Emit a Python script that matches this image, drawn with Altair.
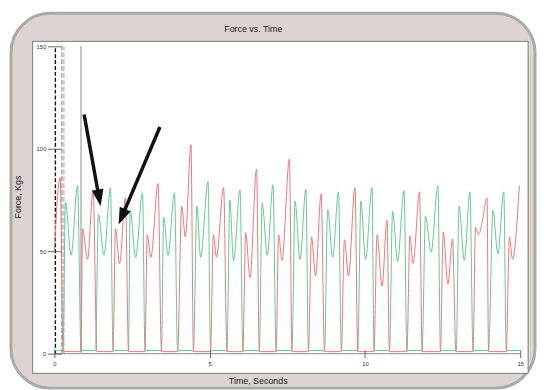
import math
import altair as alt
import pandas as pd

# ---------------- data ----------------
red_time = [0.00, 0.19, 0.28,
            0.86, 0.91, 1.07, 1.25, 1.37,
            1.89, 1.97, 2.10, 2.29, 2.39,
            2.92, 2.99, 3.11, 3.34, 3.45,
            3.97, 4.10, 4.22, 4.40, 4.48,
            5.03, 5.12, 5.22, 5.45, 5.56,
            6.07, 6.16, 6.30, 6.51, 6.60,
            7.14, 7.22, 7.33, 7.57, 7.65,
            8.18, 8.28, 8.41, 8.59, 8.70,
            9.24, 9.34, 9.47, 9.68, 9.77,
            10.29, 10.39, 10.55, 10.71, 10.79,
            11.35, 11.45, 11.55, 11.76, 11.84,
            12.43, 12.52, 12.67, 12.82, 12.93,
            13.48, 13.56, 13.66, 13.77, 13.93, 13.98,
            14.55, 14.65, 14.75, 14.97]
red_force = [50, 86, 1,
             1, 61, 46, 80, 1,
             1, 61, 44, 76, 1,
             1, 58, 47, 83, 1,
             1, 72, 57, 102, 1,
             1, 58, 47, 81, 1,
             1, 59, 37, 90, 1,
             1, 58, 45.5, 95, 1,
             1, 57, 38, 78, 1,
             1, 55.6, 38, 81, 1,
             1, 58, 33, 65, 1,
             1, 57.5, 44, 79, 1,
             1, 59.5, 34, 56, 1,
             1, 61.6, 58, 64, 76, 1,
             1, 57, 46, 82]

green_time = [0.00, 0.28, 0.36, 0.54, 0.75, 0.86,
              1.33, 1.42, 1.60, 1.81, 1.89,
              2.39, 2.44, 2.62, 2.84, 2.92,
              3.45, 3.52, 3.66, 3.87, 3.97,
              4.48, 4.59, 4.71, 4.95, 5.03,
              5.56, 5.65, 5.77, 5.98, 6.07,
              6.60, 6.69, 6.86, 7.04, 7.14,
              7.65, 7.75, 7.91, 8.10, 8.18,
              8.70, 8.80, 8.96, 9.15, 9.24,
              9.77, 9.87, 10.02, 10.23, 10.29,
              10.79, 10.89, 11.05, 11.26, 11.35,
              11.84, 11.95, 12.13, 12.35, 12.43,
              12.94, 13.03, 13.20, 13.38, 13.48,
              13.98, 14.12, 14.28, 14.47, 14.55,
              15.00]
green_force = [1.5, 1.5, 74, 48, 82, 1.5,
               1.5, 68, 48, 81, 1.5,
               1.5, 70, 47, 78.5, 1.5,
               1.5, 66.5, 48, 78.5, 1.5,
               1.5, 72, 47, 84, 1.5,
               1.5, 75, 45.5, 80, 1.5,
               1.5, 73.6, 48, 82.5, 1.5,
               1.5, 74.4, 46, 80.4, 1.5,
               1.5, 70.4, 47, 79, 1.5,
               1.5, 74.4, 46, 81, 1.5,
               1.5, 69.5, 45, 79.6, 1.5,
               1.5, 67, 49.5, 82, 1.5,
               1.5, 72, 45.5, 79, 1.5,
               1.5, 70, 48.7, 79, 1.5,
               1.5]

x_ticks = [0, 5, 10, 15]
y_ticks = [0, 50, 100, 150]

# cursor / marker lines near the start
marker_times = [0.035, 0.245, 0.31, 0.86]
marker_colors = ["#111111", "#7a7a7a", "#a0a0a0", "#c4c4c4"]
marker_dashes = [[4, 2], [5, 2], [5, 2], [1, 0]]
marker_widths = [1.4, 1.0, 1.0, 2.0]

# two annotation arrows (tail -> tip), in chart units
arrow_tail_time = [0.96, 3.40]
arrow_tail_force = [116.7, 110.6]
arrow_tip_time = [1.49, 2.07]
arrow_tip_force = [72.0, 63.0]

title_text = "Force vs. Time"
x_title_text = "Time, Seconds"
y_title_text = "Force, Kgs"

# ---------------- chart ----------------
W, H = 473, 312
X_DOM, Y_DOM = [0, 15], [0, 150]
FONT = "Liberation Sans"
kx = W / (X_DOM[1] - X_DOM[0])
ky = H / (Y_DOM[1] - Y_DOM[0])

xs = alt.Scale(domain=X_DOM, nice=False, zero=False)
ys = alt.Scale(domain=Y_DOM, nice=False, zero=False)
x_axis = alt.Axis(values=x_ticks, title=None, domain=False, grid=False, offset=-4,
                  tickSize=8, tickColor="#666666", labelFontSize=6, labelColor="#333333",
                  labelFont=FONT, labelPadding=3, labelFlush=False, format="d", zindex=1)
y_axis = alt.Axis(values=y_ticks, title=None, domain=False, grid=False, offset=-7,
                  tickSize=14, tickColor="#666666", labelFontSize=6, labelColor="#333333",
                  labelFont=FONT, labelPadding=1.5, format="d", zindex=1)

def X(f="t"):
    return alt.X(f"{f}:Q", scale=xs, axis=x_axis)

def Y(f="v"):
    return alt.Y(f"{f}:Q", scale=ys, axis=y_axis)

one = pd.DataFrame({"k": [0]})

outer = alt.Chart(one).mark_rect(
    cornerRadius=40, fill="#dcd4d1", stroke="#a9a9a9", strokeWidth=3
).encode(x=alt.value(-44), x2=alt.value(488), y=alt.value(-33.5), y2=alt.value(347))

panel = alt.Chart(one).mark_rect(
    fill="white", stroke="#7a7a7a", strokeWidth=1
).encode(x=alt.value(-22), x2=alt.value(481), y=alt.value(-5), y2=alt.value(332))

baseline = alt.Chart(pd.DataFrame({"t": [X_DOM[0]], "t2": [X_DOM[1]], "v": [0]})).mark_rule(
    color="#888888", strokeWidth=1
).encode(x=X("t"), x2="t2:Q", y=Y("v"))

marker_layers = []
for mt, mc, md, mw in zip(marker_times, marker_colors, marker_dashes, marker_widths):
    marker_layers.append(
        alt.Chart(pd.DataFrame({"t": [mt], "v": [Y_DOM[0]], "v2": [Y_DOM[1]]})).mark_rule(
            color=mc, strokeDash=md, strokeWidth=mw
        ).encode(x=X("t"), y=Y("v"), y2="v2:Q")
    )

green_df = pd.DataFrame({"t": green_time, "v": green_force})
red_df = pd.DataFrame({"t": red_time, "v": red_force})

green_line = alt.Chart(green_df).mark_line(
    interpolate="monotone", color="#62c892", strokeWidth=1.0
).encode(x=X(), y=Y())
red_line = alt.Chart(red_df).mark_line(
    interpolate="monotone", color="#f07474", strokeWidth=1.0
).encode(x=X(), y=Y())

# arrows
rows = []
for tt, tv, pt, pv in zip(arrow_tail_time, arrow_tail_force, arrow_tip_time, arrow_tip_force):
    dx = (pt - tt) * kx
    dy = -(pv - tv) * ky
    L = math.hypot(dx, dy)
    ux, uy = dx / L, dy / L
    ang = math.degrees(math.atan2(ux, -uy)) % 360
    rows.append({"t": tt, "v": tv,
                 "t2": pt - 11 * ux / kx, "v2": pv + 11 * uy / ky,
                 "tipt": pt, "tipv": pv, "ang": ang})
arrow_df = pd.DataFrame(rows)

shafts = alt.Chart(arrow_df).mark_rule(color="#111111", strokeWidth=3.5).encode(
    x=X("t"), y=Y("v"), x2="t2:Q", y2="v2:Q")
heads = alt.Chart(arrow_df).mark_point(
    shape="M0,0L-0.7,2L0.7,2Z", filled=True, color="#111111", opacity=1, size=289
).encode(x=X("tipt"), y=Y("tipv"), angle=alt.Angle("ang:Q", scale=None))

title = alt.Chart(one).mark_text(
    text=title_text, font=FONT, fontSize=9, color="#222222", align="center", baseline="middle"
).encode(x=alt.value(202), y=alt.value(-18))
xtitle = alt.Chart(one).mark_text(
    text=x_title_text, font=FONT, fontSize=9, color="#222222", align="center", baseline="alphabetic"
).encode(x=alt.value(207), y=alt.value(343))
ytitle = alt.Chart(one).mark_text(
    text=y_title_text, font=FONT, fontSize=9, color="#222222", align="center", baseline="middle",
    angle=270
).encode(x=alt.value(-37), y=alt.value(153))

chart = alt.layer(
    outer, panel, baseline, *marker_layers, green_line, red_line, shafts, heads,
    title, xtitle, ytitle
).properties(
    width=W, height=H,
    autosize=alt.AutoSizeParams(type="none"),
    padding={"left": 47, "top": 36, "right": 17, "bottom": 34},
).configure_view(stroke=None).configure(background="white", font=FONT)

chart.save("out.html", embed_options={"renderer": "svg", "actions": False})
